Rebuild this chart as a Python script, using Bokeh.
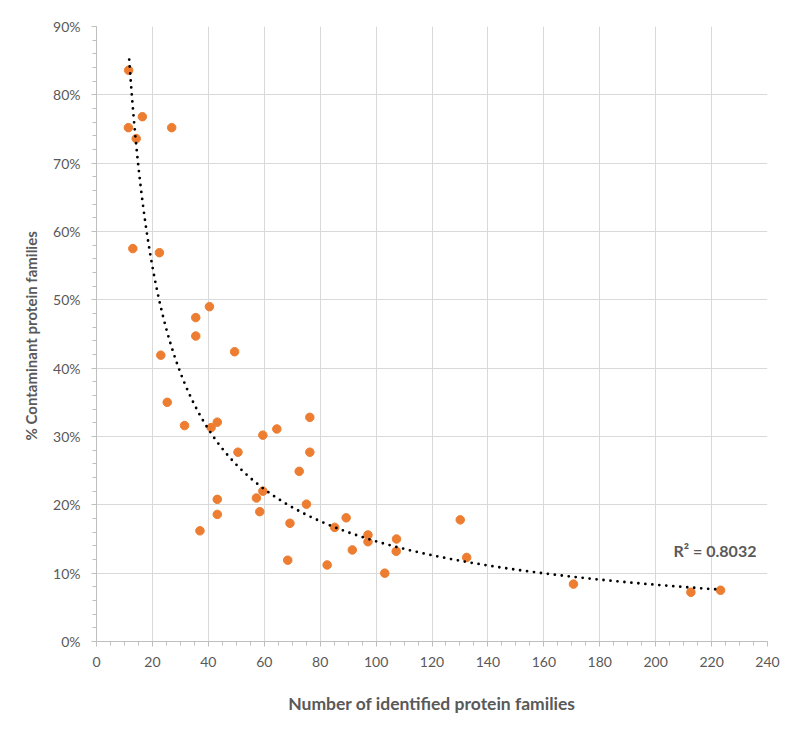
import numpy as np
from bokeh.plotting import figure
from bokeh.models import Range1d, SingleIntervalTicker, NumeralTickFormatter
from bokeh.core.properties import value
from bokeh.embed import file_html
from bokeh.resources import INLINE

# number of identified protein families
families = [11.5, 16.4, 11.4, 26.9, 14.2, 13.0, 22.5, 40.4, 35.5, 35.5,
            23.0, 49.4, 25.3, 31.5, 41.0, 43.2, 59.5, 64.5, 76.3, 50.6,
            76.3, 72.5, 43.2, 57.2, 59.5, 75.1, 43.2, 58.4, 37.0, 69.2,
            89.3, 85.2, 97.1, 97.1, 107.3, 107.2, 91.5, 68.4, 82.5, 103.1,
            130.1, 132.4, 170.6, 212.6, 223.2]
# % contaminant protein families (fraction)
contaminant = [0.836, 0.768, 0.752, 0.752, 0.736, 0.575, 0.569, 0.490, 0.474, 0.447,
               0.419, 0.424, 0.350, 0.316, 0.313, 0.321, 0.302, 0.311, 0.328, 0.277,
               0.277, 0.249, 0.208, 0.210, 0.220, 0.201, 0.186, 0.190, 0.162, 0.173,
               0.181, 0.167, 0.156, 0.146, 0.150, 0.132, 0.134, 0.119, 0.112, 0.100,
               0.178, 0.123, 0.084, 0.072, 0.075]
# power trend line y = a * x^b
trend_a = 6.40
trend_b = -0.82
trend_x_range = [11.7, 223.6]
r2_label = "R² = 0.8032"
x_title = "Number of identified protein families"
y_title = "% Contaminant  protein families"

FONT = "Lato"
GRAY = "#595959"

p = figure(width=784, height=720, output_backend="svg", toolbar_location=None,
           x_range=Range1d(0, 240), y_range=Range1d(0, 0.9),
           min_border_left=96, min_border_right=17, min_border_top=26,
           min_border_bottom=79)
p.outline_line_color = None
p.background_fill_color = "white"
p.border_fill_color = "white"

xf = np.linspace(trend_x_range[0], trend_x_range[1], 500)
yf = trend_a * xf ** trend_b

p.scatter(families, contaminant, size=8.5, color="#ED7D31", line_color="#ED7D31")
p.line(xf, yf, line_color="black", line_width=2.8, line_dash="0 7", line_cap="round")

p.text(x=[206.4], y=[0.1332], text=[r2_label], text_font=value(FONT),
       text_font_size="16px", text_font_style="bold", text_color=GRAY,
       text_align="left", text_baseline="middle")

xticker = SingleIntervalTicker(interval=20, num_minor_ticks=4)
yticker = SingleIntervalTicker(interval=0.1, num_minor_ticks=5)
xax = p.xaxis[0]
yax = p.yaxis[0]
xax.ticker = xticker
yax.ticker = yticker
yax.formatter = NumeralTickFormatter(format="0%")

for ax in (xax, yax):
    ax.axis_line_color = "#BFBFBF"
    ax.major_tick_line_color = "#BFBFBF"
    ax.minor_tick_line_color = "#BFBFBF"
    ax.major_tick_out = 5
    ax.major_tick_in = 0
    ax.minor_tick_out = 4
    ax.minor_tick_in = 0
    ax.major_label_text_font = FONT
    ax.major_label_text_font_size = "14px"
    ax.major_label_text_color = GRAY
    ax.axis_label_text_font = FONT
    ax.axis_label_text_font_style = "bold"
    ax.axis_label_text_color = GRAY

xax.major_label_standoff = 10
yax.major_label_standoff = 11
xax.axis_label = x_title
xax.axis_label_text_font_size = "17.5px"
xax.axis_label_standoff = 23
yax.axis_label = y_title
yax.axis_label_text_font_size = "15px"
yax.axis_label_standoff = 10

p.xgrid.grid_line_color = "#D9D9D9"
p.ygrid.grid_line_color = "#D9D9D9"
p.xgrid.ticker = xticker
p.ygrid.ticker = yticker

open("out.html", "w").write(file_html(p, INLINE))
